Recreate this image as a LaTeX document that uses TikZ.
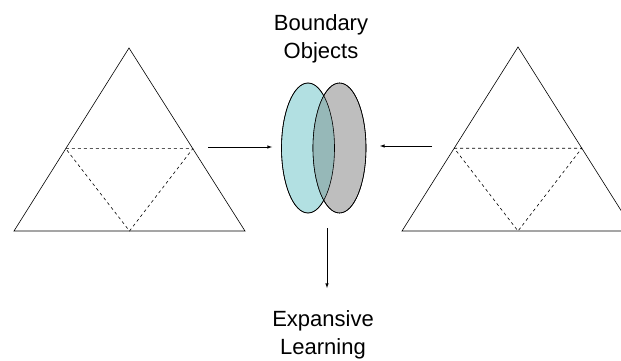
\documentclass[tikz,border=0pt]{standalone}
\usepackage{fontspec}
\setmainfont{Liberation Sans}
\usepackage{xcolor}
\usetikzlibrary{shapes.geometric, arrows, calc}

\definecolor{objcyan}{RGB}{178,224,226}
\definecolor{objgray}{RGB}{190,190,190}
\definecolor{objmix}{RGB}{150,184,184}

\begin{document}
\begin{tikzpicture}[x=1pt, y=-1pt, font=\fontsize{22}{28}\selectfont, line width=0.6pt]
\useasboundingbox (0,0) rectangle (621,361);
\clip (0,0) rectangle (621,361);

% left activity system
\coordinate (ltop) at (129,48);
\coordinate (lleft) at (14,231);
\coordinate (lright) at (245,231);
\draw (ltop) -- (lleft) -- (lright) -- cycle;
\coordinate (lmidl) at ($(ltop)!0.55!(lleft)$);
\coordinate (lmidr) at ($(ltop)!0.55!(lright)$);
\coordinate (lmidb) at ($(lleft)!0.5!(lright)$);
\draw [dashed] (lmidl) -- (lmidr) -- (lmidb) -- cycle;

% right activity system
\coordinate (rtop) at (518,47);
\coordinate (rleft) at (402,231);
\coordinate (rright) at (634,231);
\draw (rtop) -- (rleft) -- (rright) -- cycle;
\coordinate (rmidl) at ($(rtop)!0.55!(rleft)$);
\coordinate (rmidr) at ($(rtop)!0.55!(rright)$);
\coordinate (rmidb) at ($(rleft)!0.5!(rright)$);
\draw [dashed] (rmidl) -- (rmidr) -- (rmidb) -- cycle;

% boundary objects
\node (cyanobj) [ellipse, draw, fill=objcyan, minimum width=53pt, minimum height=130pt, inner sep=0pt] at (308,148) {};
\node (grayobj) [ellipse, draw, fill=objgray, minimum width=53pt, minimum height=130pt, inner sep=0pt] at (339.5,148) {};
\begin{scope}
\clip (308,148) ellipse (26.5pt and 65pt);
\fill [objmix] (339.5,148) ellipse (26.5pt and 65pt);
\end{scope}
\draw (308,148) ellipse (26.5pt and 65pt);
\draw (339.5,148) ellipse (26.5pt and 65pt);

\node (bound) [align=center] at (321,39) {Boundary\\Objects};
\node (expand) [align=center] at (323,335) {Expansive\\Learning};

\coordinate (lfrom) at (208,147);
\coordinate (lto) at (272,147);
\coordinate (rfrom) at (432,146);
\coordinate (rto) at (380,146);
\coordinate (dfrom) at (327,228);
\coordinate (dto) at (327,288);
\draw [-latex] (lfrom) -- (lto);
\draw [-latex] (rfrom) -- (rto);
\draw [-latex] (dfrom) -- (dto);
\end{tikzpicture}
\end{document}
